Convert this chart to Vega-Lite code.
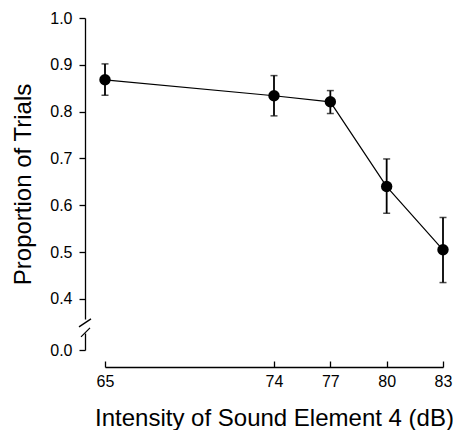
{
  "$schema": "https://vega.github.io/schema/vega-lite/v6.json",
  "width": 338,
  "height": 332,
  "autosize": "none",
  "padding": {"left": 105, "top": 18, "right": 10, "bottom": 80},
  "background": "white",
  "config": {
    "view": {"stroke": null},
    "font": "Liberation Sans",
    "axis": {"labelFont": "Liberation Sans", "titleFont": "Liberation Sans", "labelColor": "black", "titleColor": "black", "domainColor": "black", "tickColor": "black", "titleFontWeight": "normal", "grid": false}
  },
  "datasets": {
    "main": [
      {"intensity": 65, "proportion": 0.868, "lo": 0.835, "hi": 0.902},
      {"intensity": 74, "proportion": 0.834, "lo": 0.791, "hi": 0.877},
      {"intensity": 77, "proportion": 0.821, "lo": 0.796, "hi": 0.845},
      {"intensity": 80, "proportion": 0.640, "lo": 0.583, "hi": 0.699},
      {"intensity": 83, "proportion": 0.505, "lo": 0.435, "hi": 0.574}
    ],
    "breaks": [
      {"bx": 63.615, "bx2": 64.254, "by": 0.3404, "by2": 0.3575},
      {"bx": 63.722, "bx2": 64.201, "by": 0.3190, "by2": 0.3383}
    ]
  },
  "layer": [
    {
      "data": {"name": "main"},
      "mark": {"type": "line", "color": "black", "strokeWidth": 1.2},
      "encoding": {
        "x": {"field": "intensity", "type": "quantitative",
              "scale": {"domain": [65, 83], "nice": false, "zero": false},
              "axis": {"values": [65, 74, 77, 80, 83], "title": "Intensity of Sound Element 4 (dB)",
                       "offset": 17, "tickSize": -6, "tickWidth": 1.3, "domainWidth": 1.3, "labelFontSize": 16, "labelPadding": 12,
                       "titleFontSize": 24, "titlePadding": 17, "labelFlush": false}},
        "y": {"field": "proportion", "type": "quantitative",
              "scale": {"domain": [0.291, 1.0], "nice": false, "zero": false},
              "axis": {"values": [0.291, 0.4, 0.5, 0.6, 0.7, 0.8, 0.9, 1.0],
                       "labelExpr": "datum.value < 0.3 ? '0.0' : format(datum.value, '.1f')",
                       "title": "Proportion of Trials", "offset": 20, "tickSize": 6, "tickWidth": 1.3,
                       "domainWidth": 1.3, "domainDash": [17, 14, 400],
                       "labelFontSize": 16, "labelPadding": 7, "titleFontSize": 24, "titlePadding": 14, "labelFlush": false}}
      }
    },
    {
      "data": {"name": "main"},
      "mark": {"type": "rule", "color": "black", "strokeWidth": 1.8},
      "encoding": {
        "x": {"field": "intensity", "type": "quantitative"},
        "y": {"field": "lo", "type": "quantitative"},
        "y2": {"field": "hi"}
      }
    },
    {
      "data": {"name": "main"},
      "mark": {"type": "tick", "color": "black", "orient": "horizontal", "size": 7, "thickness": 1.5},
      "encoding": {
        "x": {"field": "intensity", "type": "quantitative"},
        "y": {"field": "lo", "type": "quantitative"}
      }
    },
    {
      "data": {"name": "main"},
      "mark": {"type": "tick", "color": "black", "orient": "horizontal", "size": 7, "thickness": 1.5},
      "encoding": {
        "x": {"field": "intensity", "type": "quantitative"},
        "y": {"field": "hi", "type": "quantitative"}
      }
    },
    {
      "data": {"name": "main"},
      "mark": {"type": "point", "filled": true, "color": "black", "opacity": 1, "size": 130},
      "encoding": {
        "x": {"field": "intensity", "type": "quantitative"},
        "y": {"field": "proportion", "type": "quantitative"}
      }
    },
    {
      "data": {"name": "breaks"},
      "mark": {"type": "rule", "color": "black", "strokeWidth": 1.3, "clip": false},
      "encoding": {
        "x": {"field": "bx", "type": "quantitative"},
        "x2": {"field": "bx2"},
        "y": {"field": "by", "type": "quantitative"},
        "y2": {"field": "by2"}
      }
    }
  ]
}
